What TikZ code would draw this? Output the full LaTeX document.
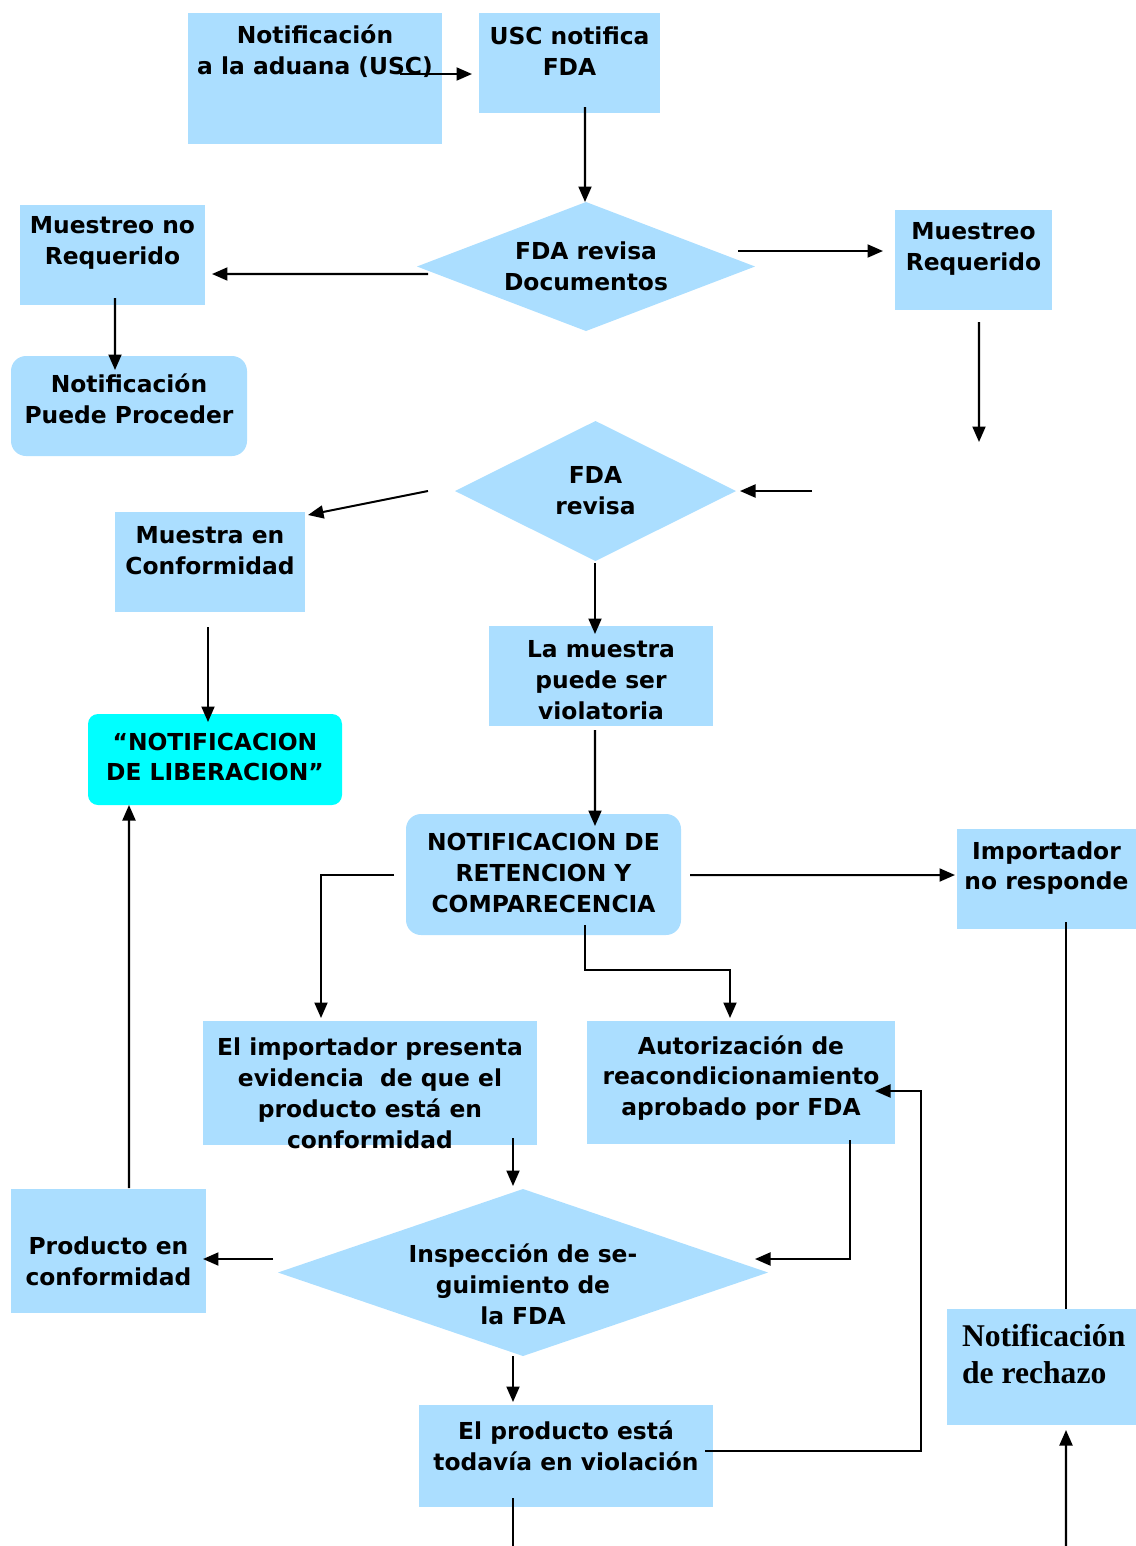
\documentclass[tikz,border=0pt]{standalone}
\usepackage{fontspec}
\setsansfont{DejaVu Sans}
\newfontfamily\rechfont{Liberation Serif}
\usetikzlibrary{arrows.meta,shapes.geometric,positioning}
\definecolor{boxBlue}{HTML}{ABDEFF}
\definecolor{libCyan}{HTML}{00FFFF}
\tikzset{
	box/.style={fill=boxBlue, inner sep=0pt, outer sep=0pt},
	rbox/.style={box, rounded corners=#1},
	rbox/.default=3mm,
	dbox/.style={box, diamond, aspect=2},
	size/.style args={#1 by #2}{minimum width=#1*0.02cm, minimum height=#2*0.02cm},
	txt/.style={font=\sffamily\bfseries\fontsize{13.3}{17.6}\selectfont, align=center, inner sep=0pt},
	rtxt/.style={font=\rechfont\bfseries\fontsize{18}{21.6}\selectfont, align=left, inner sep=0pt},
	lab/.style 2 args={label={[txt, anchor=center, yshift=#1*0.02cm]center:{#2}}}
}

\begin{document}
\begin{tikzpicture}[->,>={Triangle[length=0.31cm,width=0.26cm]}, line width=1.15pt,
 x=0.02cm, y=-0.02cm]
\useasboundingbox (0,0) rectangle (1136,1546);

\node[box, size=254 by 131, lab={27}{Notificación\\a la aduana (USC)}] (notif) at (315,78.5) {};
\node[box, size=181 by 100, lab={11.5}{USC notifica\\FDA}] (uscfda) at (569.5,63) {};
\node[dbox, size=338 by 129, lab={0}{FDA revisa\\Documentos}] (revdoc) at (586,266.5) {};
\node[box, size=185 by 100, lab={12.5}{Muestreo no\\Requerido}] (noreq) at (112.5,255) {};
\node[box, size=157 by 100, lab={11.5}{Muestreo\\Requerido}] (req) at (973.5,260) {};
\node[rbox, size=236 by 100, lab={7}{Notificación\\Puede Proceder}] (procede) at (129,406) {};
\node[dbox, size=281 by 140, lab={0}{FDA\\revisa}] (revisa) at (595.5,491) {};
\node[box, size=190 by 100, lab={11}{Muestra en\\Conformidad}] (conf) at (210,562) {};
\node[rbox=2mm, fill=libCyan, size=254 by 91, lab={2.5}{“NOTIFICACION\\DE LIBERACION”}] (libera) at (215,759.5) {};
\node[box, size=224 by 100, lab={-4.5}{La muestra\\puede ser\\violatoria}] (violat) at (601,676) {};
\node[rbox, size=275 by 121, lab={1.5}{NOTIFICACION DE\\RETENCION Y\\COMPARECENCIA}] (reten) at (543.5,874.5) {};
\node[box, size=179 by 100, lab={11}{Importador\\no responde}] (noresp) at (1046.5,879) {};
\node[box, size=334 by 124, lab={-10.5}{El importador presenta\\evidencia\ \ de que el\\producto está en\\conformidad}] (evid) at (370,1083) {};
\node[box, size=308 by 123, lab={4.5}{Autorización de\\reacondicionamiento\\aprobado por FDA}] (reacond) at (741,1082.5) {};
\node[dbox, size=490 by 167, lab={-11.5}{Inspección de se-\\guimiento de\\la FDA}] (inspec) at (523,1272.5) {};
\node[box, size=195 by 124, lab={-10}{Producto en\\conformidad}] (prodconf) at (108.5,1251) {};
\node[box, size=294 by 102, lab={10.5}{El producto está\\todavía en violación}] (todavia) at (566,1456) {};
\node[box, size=189 by 116, label={[rtxt, anchor=west, xshift=14*0.02cm, yshift=13*0.02cm]west:{Notificación\\de rechazo}}] (rechazo) at (1041.5,1367) {};

\coordinate (reqfin) at (979,442);
\coordinate (revent) at (812,491);
\coordinate (bajofin) at (513,1546);
\coordinate (rechent) at (1066,1546);

% top row
\path ([shift={(-42,-4.5)}]notif.east) edge ([shift={(-7,11)}]uscfda.west);
\path ([shift={(15.5,-6)}]uscfda.south) edge ([shift={(-1,0)}]revdoc.north);
\path ([shift={(11,7.5)}]revdoc.west) edge ([shift={(7,19)}]noreq.east);
\path ([shift={(-17,-15.5)}]revdoc.east) edge ([shift={(-12,-9)}]req.west);
\path ([shift={(2.5,-7)}]noreq.south) edge ([shift={(-14,14)}]procede.north);
\path ([shift={(5.5,12)}]req.south) edge (reqfin);

% second review
\path (revent) edge ([shift={(4,0)}]revisa.east);
\path ([shift={(-27,0)}]revisa.west) edge ([shift={(3,3)}]conf.north east);
\path ([shift={(-0.5,2)}]revisa.south) edge ([shift={(-6,8)}]violat.north);
\path ([shift={(-2,15)}]conf.south) edge ([shift={(-7,8)}]libera.north);
\path ([shift={(-6,4)}]violat.south) edge ([shift={(51.5,12)}]reten.north);

% retention
\path ([shift={(9,0.5)}]reten.east) edge ([shift={(-2,-4)}]noresp.west);
\draw ([shift={(-12,0)}]reten.west) -| ([shift={(-49,-3)}]evid.north);
\draw ([shift={(41.5,-10)}]reten.south) -- ++(0,45) -| ([shift={(-11,-3)}]reacond.north);
\path ([shift={(19.5,-7)}]noresp.south) edge[-] ([shift={(24.5,0)}]rechazo.north);

% follow-up inspection
\path ([shift={(143,-7)}]evid.south) edge ([shift={(-10,-3)}]inspec.north);
\draw ([shift={(109,-4)}]reacond.south) |- ([shift={(-13,-13.5)}]inspec.east);
\path ([shift={(-5,-13.5)}]inspec.west) edge ([shift={(-3,8)}]prodconf.east);
\path ([shift={(20.5,-1)}]prodconf.north) edge ([shift={(-86,0)}]libera.south);
\path ([shift={(-10,0)}]inspec.south) edge ([shift={(-53,-3)}]todavia.north);
\draw ([shift={(-8,-5)}]todavia.east) -- ++(216,0) |- ([shift={(-20,8.5)}]reacond.east);
\path ([shift={(-53,-9)}]todavia.south) edge[-] (bajofin);
\path (rechent) edge ([shift={(24.5,5)}]rechazo.south);
\end{tikzpicture}
\end{document}
